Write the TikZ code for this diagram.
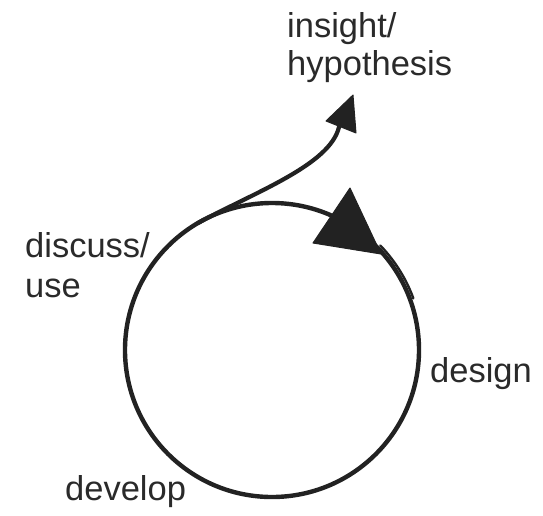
\documentclass[tikz,border=0pt]{standalone}
\usepackage{fontspec}
\setmainfont{Liberation Sans}
\definecolor{ink}{HTML}{222222}
\definecolor{txt}{HTML}{2A2A2A}
\begin{document}
\begin{tikzpicture}[x=1pt,y=-1pt,
  lbl/.style={anchor=base west,inner sep=0pt,text=txt,font=\fontsize{34.5}{38}\selectfont},
  stroke/.style={draw=ink,line width=4.4pt,line cap=round},
  head/.style={fill=ink,draw=ink,line width=1pt,line join=round}]
\useasboundingbox (0,0) rectangle (543,515);
% cycle
\coordinate (c) at (272,350);
\draw[stroke] (c) circle[radius=147];
% doubled stroke after the head
\draw[draw=ink,line width=2.4pt,line cap=round] ([shift={(-44:150.5)}]c) arc[start angle=-44,end angle=-30,radius=150.5] arc[start angle=-30,end angle=-20,radius=149.5];
% big head on the circle
\coordinate (t1) at (350,188);
\coordinate (t2) at (313,243);
\coordinate (t3) at (381,254);
\fill[head] (t1) -- (t2) -- (t3) -- cycle;
% branch to insight
\coordinate (b0) at (198,223);
\coordinate (b1) at (339,127);
\draw[stroke,line width=4.2pt] (b0) .. controls (255,192) and (330,165) .. (b1);
\coordinate (s1) at (353,95);
\coordinate (s2) at (326,121);
\coordinate (s3) at (356,133);
\fill[head] (s1) -- (s2) -- (s3) -- cycle;
% labels
\node[lbl] (ins) at (287,37) {insight/};
\node[lbl] (hyp) at (287,75) {hypothesis};
\node[lbl] (dis) at (25,257) {discuss/};
\node[lbl] (use) at (25,297) {use};
\node[lbl] (des) at (430,382) {design};
\node[lbl] (dev) at (65,500) {develop};
\end{tikzpicture}
\end{document}
